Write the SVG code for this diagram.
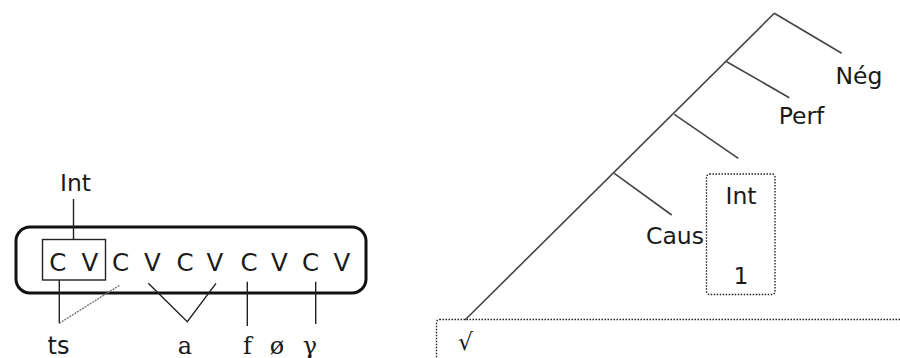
<svg xmlns="http://www.w3.org/2000/svg" width="900" height="358" viewBox="0 0 900 358">
<style>
.t{font-family:"DejaVu Sans","Liberation Sans",sans-serif;font-size:23.5px;fill:#1a1a1a}
.cv{font-family:"DejaVu Sans","Liberation Sans",sans-serif;font-size:24.5px;fill:#1a1a1a;text-anchor:middle}
.s{font-family:"DejaVu Serif","Liberation Serif",serif;font-size:24px;fill:#1a1a1a;text-anchor:middle}
.ln{stroke:#222;stroke-width:1.4;fill:none}
.tr{stroke:#444;stroke-width:1.6;fill:none}
.dot{stroke:#222;stroke-width:1.4;stroke-dasharray:1.5 1.5;fill:none}
</style>
<rect width="900" height="358" fill="#fff"/>
<g id="skeleton">
<rect x="16" y="227" width="350" height="66" rx="14" fill="none" stroke="#111" stroke-width="3"/>
<rect x="42.5" y="239.5" width="63" height="40.5" class="ln"/>
<text class="cv" x="57.8" y="271">C</text>
<text class="cv" x="90" y="271">V</text>
<text class="cv" x="120.5" y="271">C</text>
<text class="cv" x="152.5" y="271">V</text>
<text class="cv" x="185" y="271">C</text>
<text class="cv" x="215" y="271">V</text>
<text class="cv" x="249" y="271">C</text>
<text class="cv" x="279.5" y="271">V</text>
<text class="cv" x="310.5" y="271">C</text>
<text class="cv" x="342" y="271">V</text>
</g>
<g id="int-left"><text class="t" x="75.5" y="191" text-anchor="middle">Int</text></g>
<g id="ts"><text class="t" x="58.5" y="354" text-anchor="middle" style="font-size:24px">ts</text></g>
<g id="a"><text class="s" x="185" y="354">a</text></g>
<g id="f"><text class="s" x="247.5" y="354">f</text></g>
<g id="oe"><text class="s" x="277" y="354">ø</text></g>
<g id="gamma"><text class="s" x="310" y="354">γ</text></g>
<g id="tree-nodes">
<g id="neg"><text class="t" x="859" y="84" text-anchor="middle">Nég</text></g>
<g id="perf"><text class="t" x="801.5" y="124" text-anchor="middle">Perf</text></g>
<g id="caus"><text class="t" x="675" y="244" text-anchor="middle">Caus</text></g>
<g id="int-box">
<rect x="706.5" y="174" width="68.5" height="120.5" rx="3" class="dot"/>
<text class="t" x="741" y="204" text-anchor="middle">Int</text>
<text class="t" x="741" y="284" text-anchor="middle">1</text>
</g>
<g id="root">
<rect x="436.5" y="319.5" width="480" height="60" rx="3" class="dot"/>
<text class="t" x="465.5" y="350" text-anchor="middle">√</text>
</g>
</g>
<g id="connectors">
<line class="ln" x1="73.5" y1="199" x2="73.5" y2="239.5"/>
<polyline class="ln" points="59.3,280 59.3,323.3"/>
<line x1="59.3" y1="323.3" x2="120" y2="285" stroke="#777" stroke-width="1.4" stroke-dasharray="2 1"/>
<polyline class="ln" points="148.3,283.3 187.3,321.7 216,283.3"/>
<line class="ln" x1="247.3" y1="281.7" x2="247.3" y2="326"/>
<line class="ln" x1="315.7" y1="281.7" x2="315.7" y2="324"/>
<line class="tr" x1="774.3" y1="13.3" x2="465" y2="320"/>
<line class="tr" x1="774.3" y1="13.3" x2="841.7" y2="53.3"/>
<line class="tr" x1="726.7" y1="61.7" x2="789.3" y2="97.7"/>
<line class="tr" x1="674.3" y1="114.3" x2="738.3" y2="158.3"/>
<line class="tr" x1="614.3" y1="173.3" x2="671.7" y2="215"/>
</g>
</svg>
